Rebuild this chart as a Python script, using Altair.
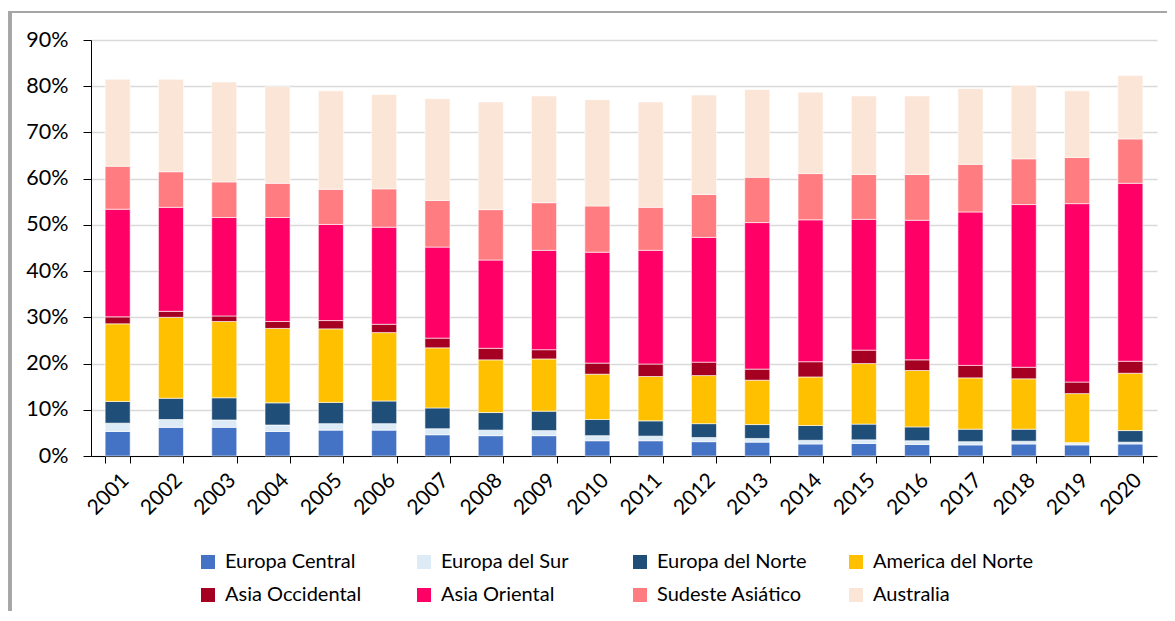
import altair as alt
import pandas as pd

years = [str(y) for y in range(2001, 2021)]
regions = ["Europa Central", "Europa del Sur", "Europa del Norte", "America del Norte",
           "Asia Occidental", "Asia Oriental", "Sudeste Asiático", "Australia"]
colors = ["#4472C4", "#DDEBF7", "#1F4E79", "#FFC000", "#A50021", "#FF0066", "#FF7C80", "#FBE5D6"]

europa_central = [5.3, 6.2, 6.2, 5.3, 5.6, 5.6, 4.6, 4.4, 4.4, 3.3, 3.3, 3.1, 3.0, 2.6, 2.7, 2.5, 2.4, 2.6, 2.4, 2.6]
europa_sur = [1.8, 1.7, 1.6, 1.4, 1.4, 1.4, 1.3, 1.2, 1.1, 1.1, 1.0, 0.9, 0.8, 0.8, 0.8, 0.8, 0.7, 0.6, 0.4, 0.4]
europa_norte = [4.7, 4.6, 4.8, 4.8, 4.6, 4.9, 4.5, 3.8, 4.2, 3.5, 3.3, 3.0, 3.0, 3.2, 3.4, 3.0, 2.7, 2.6, 0.1, 2.5]
america_norte = [16.8, 17.5, 16.5, 16.1, 15.9, 14.8, 13.0, 11.4, 11.3, 9.8, 9.6, 10.4, 9.6, 10.5, 13.1, 12.2, 11.1, 10.9, 10.6, 12.4]
asia_occidental = [1.5, 1.3, 1.2, 1.5, 1.8, 1.8, 2.1, 2.5, 2.0, 2.4, 2.7, 2.9, 2.4, 3.3, 2.9, 2.3, 2.7, 2.5, 2.5, 2.6]
asia_oriental = [23.3, 22.5, 21.3, 22.5, 20.8, 21.0, 19.7, 19.1, 21.5, 24.0, 24.6, 27.0, 31.7, 30.7, 28.3, 30.2, 33.2, 35.2, 38.6, 38.5]
sudeste_asiatico = [9.3, 7.7, 7.7, 7.4, 7.6, 8.3, 10.1, 10.9, 10.3, 10.0, 9.3, 9.3, 9.8, 10.0, 9.7, 9.9, 10.3, 9.9, 10.0, 9.6]
australia = [18.8, 20.0, 21.6, 20.9, 21.3, 20.4, 22.0, 23.3, 23.1, 23.0, 22.8, 21.5, 19.0, 17.6, 17.0, 17.0, 16.4, 15.9, 14.4, 13.7]

series = [europa_central, europa_sur, europa_norte, america_norte,
          asia_occidental, asia_oriental, sudeste_asiatico, australia]

rows = []
for i, (reg, vals) in enumerate(zip(regions, series)):
    for y, v in zip(years, vals):
        rows.append({"year": y, "region": reg, "value": v / 100.0, "ord": i})
df = pd.DataFrame(rows)

FONT = "Lato"

bars = alt.Chart(df).mark_bar(stroke="white", strokeWidth=0.6).encode(
    x=alt.X("year:N", sort=years,
            scale=alt.Scale(paddingInner=0.53, paddingOuter=0.265),
            axis=alt.Axis(title=None, labelAngle=-45, tickBand="extent", tickSize=7,
                          tickColor="black", domainColor="black", labelFontSize=21,
                          labelFont=FONT, labelColor="black", labelPadding=6, grid=False)),
    y=alt.Y("value:Q", stack="zero",
            scale=alt.Scale(domain=[0, 0.9], nice=False),
            axis=alt.Axis(title=None, values=[i / 10 for i in range(10)], format=".0%",
                          grid=True, gridColor="#d9d9d9", gridWidth=1.5,
                          tickSize=8, tickColor="black", domainColor="black",
                          labelFontSize=21.5, labelFont=FONT, labelColor="black",
                          labelPadding=15)),
    color=alt.Color("region:N", sort=regions,
                    scale=alt.Scale(domain=regions, range=colors),
                    legend=alt.Legend(title=None, orient="none", legendX=107, legendY=512,
                                      direction="horizontal",
                                      columns=4, gridAlign="all", symbolType="square",
                                      symbolSize=196, symbolStrokeWidth=0,
                                      labelFontSize=20, labelFont=FONT, labelColor="black",
                                      labelOffset=7, columnPadding=28, rowPadding=13,
                                      labelLimit=300)),
    order=alt.Order("ord:Q", sort="ascending"),
)

frame_top = alt.Chart(df).mark_rule(color="#a6a6a6", strokeWidth=2).encode(
    x=alt.value(-82), x2=alt.value(1100), y=alt.value(-28))
frame_left = alt.Chart(df).mark_rule(color="#a6a6a6", strokeWidth=2.5).encode(
    x=alt.value(-81), y=alt.value(-29), y2=alt.value(600))

chart = alt.layer(bars, frame_top, frame_left).properties(
    width=1066, height=416,
    autosize=alt.AutoSizeParams(type="none"),
    padding={"left": 83, "top": 32, "right": 10, "bottom": 155},
).configure_view(stroke=None)

chart.save("out.html", embed_options={"renderer": "svg", "actions": False})
